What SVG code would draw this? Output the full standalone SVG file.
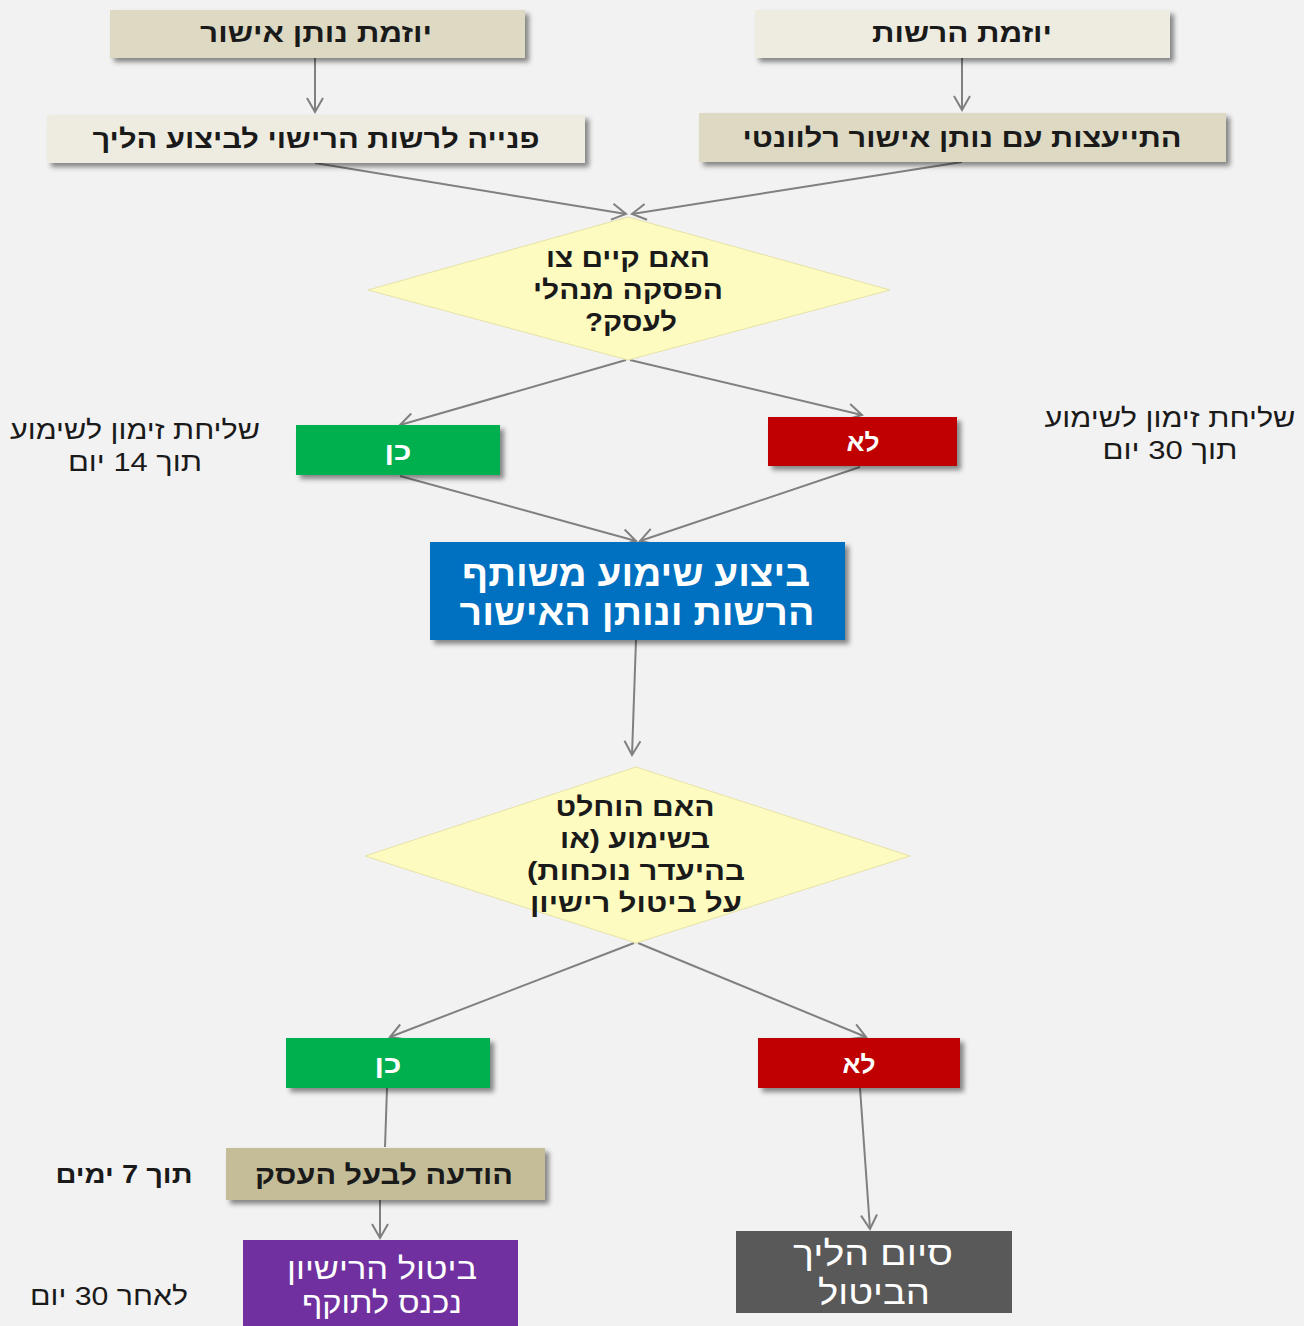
<svg xmlns="http://www.w3.org/2000/svg" width="1304" height="1326" viewBox="0 0 1304 1326">
<style>
text{font-family:"Liberation Sans","DejaVu Sans",sans-serif;text-anchor:middle;direction:rtl}
.b{font-weight:bold}
.dk{fill:#1a1a1a}
.wh{fill:#ffffff}
.conn{stroke:#808080;stroke-width:2;fill:none}
</style>
<defs>
<filter id="sh" x="-10%" y="-20%" width="130%" height="160%">
<feDropShadow dx="4" dy="4" stdDeviation="2.5" flood-color="#000" flood-opacity="0.45"/>
</filter>
<marker id="ah" viewBox="0 0 20 20" refX="18" refY="10" markerWidth="20" markerHeight="20" markerUnits="userSpaceOnUse" orient="auto">
<path d="M4,2 L18,10 L4,18" fill="none" stroke="#808080" stroke-width="2"/>
</marker>
</defs>
<rect width="1304" height="1326" fill="#f2f2f2"/>

<g id="connectors" class="conn">
<line x1="315" y1="58" x2="315" y2="112" marker-end="url(#ah)"/>
<line x1="962" y1="58" x2="962" y2="110" marker-end="url(#ah)"/>
<line x1="315" y1="163" x2="626" y2="214" marker-end="url(#ah)"/>
<line x1="962" y1="162" x2="632" y2="214" marker-end="url(#ah)"/>
<line x1="626" y1="360" x2="400" y2="425" marker-end="url(#ah)"/>
<line x1="630" y1="360" x2="862" y2="415" marker-end="url(#ah)"/>
<line x1="400" y1="476" x2="636" y2="541" marker-end="url(#ah)"/>
<line x1="860" y1="467" x2="640" y2="541" marker-end="url(#ah)"/>
<line x1="636" y1="640" x2="632" y2="755" marker-end="url(#ah)"/>
<line x1="634" y1="943" x2="390" y2="1037" marker-end="url(#ah)"/>
<line x1="638" y1="943" x2="866" y2="1037" marker-end="url(#ah)"/>
<line x1="387" y1="1088" x2="385" y2="1147"/>
<line x1="380" y1="1200" x2="380" y2="1238" marker-end="url(#ah)"/>
<line x1="860" y1="1088" x2="870" y2="1229" marker-end="url(#ah)"/>
</g>

<g id="n-init-approver">
<rect x="110" y="10" width="415" height="48" fill="#ddd9c3" filter="url(#sh)"/>
<text x="316" y="42" class="b dk" font-size="26" textLength="232" lengthAdjust="spacingAndGlyphs">יוזמת נותן אישור</text>
</g>
<g id="n-init-authority">
<rect x="755" y="10" width="415" height="48" fill="#eeece1" filter="url(#sh)"/>
<text x="962" y="42" class="b dk" font-size="26" textLength="180" lengthAdjust="spacingAndGlyphs">יוזמת הרשות</text>
</g>
<g id="n-apply">
<rect x="47" y="115" width="538" height="48" fill="#eeece1" filter="url(#sh)"/>
<text x="316" y="148" class="b dk" font-size="26" textLength="447" lengthAdjust="spacingAndGlyphs">פנייה לרשות הרישוי לביצוע הליך</text>
</g>
<g id="n-consult">
<rect x="699" y="113" width="527" height="49" fill="#ddd9c3" filter="url(#sh)"/>
<text x="962" y="147" class="b dk" font-size="26" textLength="439" lengthAdjust="spacingAndGlyphs">התייעצות עם נותן אישור רלוונטי</text>
</g>

<g id="n-q1">
<polygon points="628,217 890,290 628,360 368,290" fill="#fdfbbf" stroke="#e6e2a8" stroke-width="1"/>
<text x="628" y="267" class="b dk" font-size="26" textLength="164" lengthAdjust="spacingAndGlyphs">האם קיים צו</text>
<text x="628" y="299" class="b dk" font-size="26" textLength="190" lengthAdjust="spacingAndGlyphs">הפסקה מנהלי</text>
<text x="631" y="331" class="b dk" font-size="26" textLength="92" lengthAdjust="spacingAndGlyphs">לעסק?</text>
</g>

<g id="n-yes1">
<rect x="296" y="425" width="204" height="50" fill="#00b050" filter="url(#sh)"/>
<text x="398" y="460" class="b wh" font-size="25" textLength="27" lengthAdjust="spacingAndGlyphs">כן</text>
</g>
<g id="n-no1">
<rect x="768" y="417" width="189" height="49" fill="#c00000" filter="url(#sh)"/>
<text x="863" y="451" class="b wh" font-size="25" textLength="33" lengthAdjust="spacingAndGlyphs">לא</text>
</g>

<g id="t-14">
<text x="135" y="439" class="dk" font-size="26" textLength="250" lengthAdjust="spacingAndGlyphs">שליחת זימון לשימוע</text>
<text x="135" y="471" class="dk" font-size="26" textLength="134" lengthAdjust="spacingAndGlyphs">תוך 14 יום</text>
</g>
<g id="t-30">
<text x="1170" y="427" class="dk" font-size="26" textLength="251" lengthAdjust="spacingAndGlyphs">שליחת זימון לשימוע</text>
<text x="1170" y="459" class="dk" font-size="26" textLength="135" lengthAdjust="spacingAndGlyphs">תוך 30 יום</text>
</g>

<g id="n-hearing">
<rect x="430" y="542" width="415" height="98" fill="#0070c0" filter="url(#sh)"/>
<text x="636" y="586" class="b wh" font-size="36" textLength="348" lengthAdjust="spacingAndGlyphs">ביצוע שימוע משותף</text>
<text x="637" y="625" class="b wh" font-size="36" textLength="355" lengthAdjust="spacingAndGlyphs">הרשות ונותן האישור</text>
</g>

<g id="n-q2">
<polygon points="636,767 910,856 636,943 365,856" fill="#fdfbbf" stroke="#e6e2a8" stroke-width="1"/>
<text x="635" y="816" class="b dk" font-size="26" textLength="159" lengthAdjust="spacingAndGlyphs">האם הוחלט</text>
<text x="635" y="848" class="b dk" font-size="26" textLength="150" lengthAdjust="spacingAndGlyphs">בשימוע (או</text>
<text x="636" y="880" class="b dk" font-size="26" textLength="218" lengthAdjust="spacingAndGlyphs">בהיעדר נוכחות)</text>
<text x="636" y="912" class="b dk" font-size="26" textLength="212" lengthAdjust="spacingAndGlyphs">על ביטול רישיון</text>
</g>

<g id="n-yes2">
<rect x="286" y="1038" width="204" height="50" fill="#00b050" filter="url(#sh)"/>
<text x="388" y="1073" class="b wh" font-size="25" textLength="27" lengthAdjust="spacingAndGlyphs">כן</text>
</g>
<g id="n-no2">
<rect x="758" y="1038" width="202" height="50" fill="#c00000" filter="url(#sh)"/>
<text x="859" y="1073" class="b wh" font-size="25" textLength="33" lengthAdjust="spacingAndGlyphs">לא</text>
</g>

<g id="n-notify">
<rect x="226" y="1148" width="319" height="52" fill="#c4bd97" filter="url(#sh)"/>
<text x="384" y="1184" class="b dk" font-size="27" textLength="258" lengthAdjust="spacingAndGlyphs">הודעה לבעל העסק</text>
</g>
<g id="t-7">
<text x="124" y="1183" class="b dk" font-size="25" textLength="137" lengthAdjust="spacingAndGlyphs">תוך 7 ימים</text>
</g>

<g id="n-cancel">
<rect x="243" y="1240" width="275" height="90" fill="#7030a0"/>
<text x="382" y="1279" class="wh" font-size="30" textLength="190" lengthAdjust="spacingAndGlyphs">ביטול הרישיון</text>
<text x="382" y="1313" class="wh" font-size="30" textLength="160" lengthAdjust="spacingAndGlyphs">נכנס לתוקף</text>
</g>
<g id="t-after30">
<text x="109" y="1305" class="dk" font-size="26" textLength="158" lengthAdjust="spacingAndGlyphs">לאחר 30 יום</text>
</g>

<g id="n-end">
<rect x="736" y="1231" width="276" height="82" fill="#595959"/>
<text x="873" y="1265" class="wh" font-size="34" textLength="160" lengthAdjust="spacingAndGlyphs">סיום הליך</text>
<text x="874" y="1304" class="wh" font-size="34" textLength="112" lengthAdjust="spacingAndGlyphs">הביטול</text>
</g>
</svg>
